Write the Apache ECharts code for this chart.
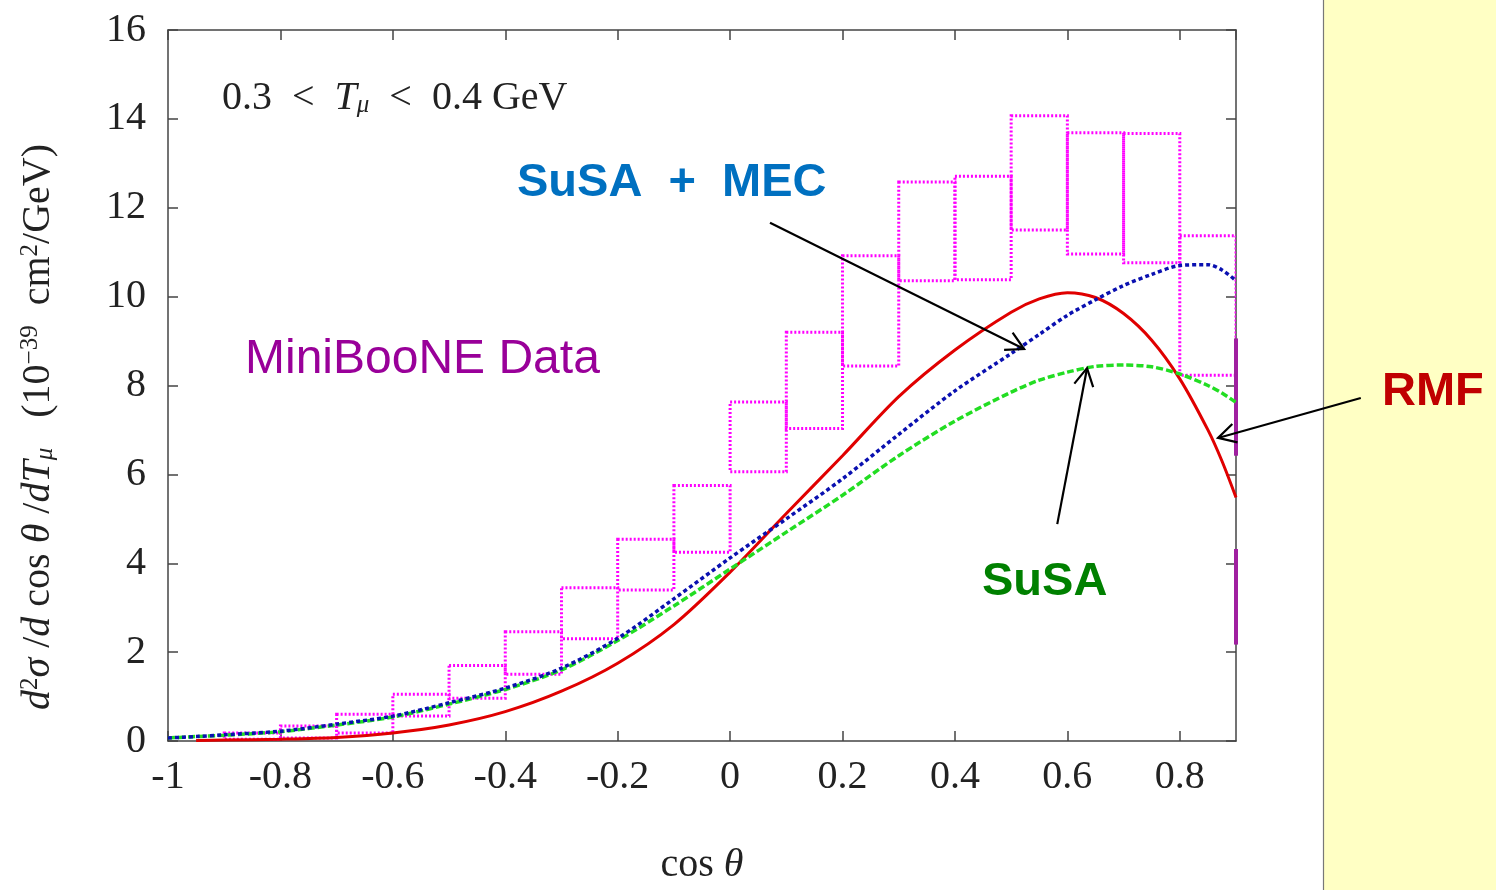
<!DOCTYPE html>
<html>
<head>
<meta charset="utf-8">
<script src="https://cdn.jsdelivr.net/npm/echarts@6/dist/echarts.min.js"></script>
<style>
  html, body { margin: 0; padding: 0; background: #fff; }
  #chart { width: 1496px; height: 890px; }
</style>
</head>
<body>
<div id="chart"></div>
<script>
// MiniBooNE data boxes: bin left edge, lower and upper band value
const binLeft = [-0.9, -0.8, -0.7, -0.6, -0.5, -0.4, -0.3, -0.2, -0.1, 0, 0.1, 0.2, 0.3, 0.4, 0.5, 0.6, 0.7, 0.8];
const binWidth = 0.1;
const dataLow  = [0.04, 0.07, 0.18, 0.56, 0.96, 1.5, 2.3, 3.4, 4.25, 6.06, 7.03, 8.44, 10.36, 10.38, 11.5, 10.96, 10.76, 8.23];
const dataHigh = [0.18, 0.34, 0.6, 1.05, 1.7, 2.46, 3.45, 4.54, 5.75, 7.63, 9.2, 10.92, 12.58, 12.71, 14.07, 13.69, 13.67, 11.37];

// partial box edge at cos = 0.9 (next bin, clipped)
const edgeX = 0.9;
const edgeLow  = [2.17, 6.42];
const edgeHigh = [4.32, 9.06];

// model curves
const cosGrid = [-1, -0.95, -0.9, -0.8, -0.7, -0.6, -0.5, -0.4, -0.3, -0.2, -0.1, 0, 0.1, 0.2, 0.3, 0.4, 0.5, 0.55, 0.6, 0.65, 0.7, 0.75, 0.8, 0.85, 0.875, 0.9];
const rmf     = [null, 0.01, 0.02, 0.04, 0.08, 0.18, 0.36, 0.66, 1.12, 1.75, 2.62, 3.8, 5.12, 6.42, 7.75, 8.8, 9.65, 9.95, 10.09, 9.98, 9.62, 9.02, 8.15, 7.0, 6.3, 5.48];
const susaMec = [0.07, 0.1, 0.14, 0.22, 0.38, 0.56, 0.86, 1.19, 1.64, 2.31, 3.2, 4.12, 5.0, 5.9, 6.9, 7.88, 8.72, 9.15, 9.58, 9.93, 10.25, 10.5, 10.7, 10.72, 10.6, 10.36];
const susa    = [0.07, 0.1, 0.13, 0.21, 0.36, 0.54, 0.83, 1.16, 1.6, 2.26, 3.04, 3.87, 4.7, 5.53, 6.42, 7.2, 7.85, 8.12, 8.3, 8.43, 8.46, 8.42, 8.26, 8.0, 7.83, 7.62];

const xTicks = { min: -1, max: 0.9, interval: 0.2 };
const yTicks = { min: 0, max: 16, interval: 2 };

const serif = "'Liberation Serif', 'DejaVu Serif', serif";
const sans = "'Liberation Sans', Arial, sans-serif";
const frame = "#444";
const ink = "#222";

let chart = echarts.init(document.getElementById("chart"));

function pairs(xs, ys) {
  return xs.map((x, i) => [x, ys[i]]);
}

let boxRows = binLeft.map((x, i) => [x, x + binWidth, dataLow[i], dataHigh[i]]);
let edgeRows = edgeLow.map((lo, i) => [edgeX, lo, edgeHigh[i]]);

let axisCommon = {
  type: "value",
  splitLine: { show: false },
  axisLine: { show: true, onZero: false, lineStyle: { color: frame, width: 1.5 } },
  axisTick: { show: true, inside: true, length: 10, lineStyle: { color: frame, width: 1.5 } }
};

let option = {
  animation: false,
  backgroundColor: "#fff",
  grid: { left: 168, top: 30, right: 260, bottom: 145, containLabel: false },
  xAxis: [
    Object.assign({}, axisCommon, {
      position: "bottom",
      min: xTicks.min, max: xTicks.max, interval: xTicks.interval,
      axisLabel: {
        showMaxLabel: false,
        margin: 16,
        fontFamily: serif, fontSize: 40, color: ink,
        formatter: v => String(Math.round(v * 10) / 10)
      },
      name: "cos {i|θ}",
      nameLocation: "middle",
      nameGap: 104,
      nameTextStyle: {
        fontFamily: serif, fontSize: 40, color: ink,
        rich: { i: { fontFamily: serif, fontSize: 40, fontStyle: "italic", color: ink } }
      }
    }),
    Object.assign({}, axisCommon, {
      position: "top",
      min: xTicks.min, max: xTicks.max, interval: xTicks.interval,
      axisLabel: { show: false }
    })
  ],
  yAxis: [
    Object.assign({}, axisCommon, {
      position: "left",
      min: yTicks.min, max: yTicks.max, interval: yTicks.interval,
      axisLabel: { margin: 22, fontFamily: serif, fontSize: 40, color: ink }
    }),
    Object.assign({}, axisCommon, {
      position: "right",
      min: yTicks.min, max: yTicks.max, interval: yTicks.interval,
      axisLabel: { show: false }
    })
  ],
  series: [
    {
      name: "MiniBooNE",
      type: "custom",
      clip: true,
      encode: { x: [0, 1], y: [2, 3] },
      data: boxRows,
      renderItem: function (params, api) {
        let p0 = api.coord([api.value(0), api.value(2)]);
        let p1 = api.coord([api.value(1), api.value(3)]);
        return {
          type: "rect",
          shape: { x: p0[0], y: p1[1], width: p1[0] - p0[0], height: p0[1] - p1[1] },
          style: { fill: null, stroke: "#ff00ff", lineWidth: 3, lineDash: [2, 2] }
        };
      },
      z: 2
    },
    {
      name: "edge",
      type: "custom",
      clip: false,
      encode: { x: 0, y: [1, 2] },
      data: edgeRows,
      renderItem: function (params, api) {
        let a = api.coord([api.value(0), api.value(1)]);
        let b = api.coord([api.value(0), api.value(2)]);
        return {
          type: "line",
          shape: { x1: a[0], y1: a[1], x2: b[0], y2: b[1] },
          style: { stroke: "#a020a0", lineWidth: 4 }
        };
      },
      z: 3
    },
    {
      name: "RMF",
      type: "line",
      data: pairs(cosGrid, rmf),
      smooth: 0.3,
      symbol: "none",
      lineStyle: { color: "#e00000", width: 3 },
      z: 4
    },
    {
      name: "SuSA",
      type: "line",
      data: pairs(cosGrid, susa),
      smooth: 0.3,
      symbol: "none",
      lineStyle: { color: "#22dd22", width: 3.5, type: [7, 3] },
      z: 5
    },
    {
      name: "SuSA + MEC",
      type: "line",
      data: pairs(cosGrid, susaMec),
      smooth: 0.3,
      symbol: "none",
      lineStyle: { color: "#0a10b0", width: 3.5, type: [4, 3] },
      z: 6
    }
  ]
};

chart.setOption(option);

// annotation arrows, tail and tip in data coordinates
const arrows = [
  { from: [0.071, 11.66], to: [0.523, 8.82] },
  { from: [0.582, 4.88], to: [0.635, 8.39] },
  { from: [1.122, 7.72], to: [0.868, 6.82] }
];

function arrowGraphic(a) {
  let p = chart.convertToPixel({ xAxisIndex: 0, yAxisIndex: 0 }, a.from);
  let q = chart.convertToPixel({ xAxisIndex: 0, yAxisIndex: 0 }, a.to);
  let ang = Math.atan2(q[1] - p[1], q[0] - p[0]);
  let len = 20, spread = 0.5;
  let h1 = [q[0] - len * Math.cos(ang - spread), q[1] - len * Math.sin(ang - spread)];
  let h2 = [q[0] - len * Math.cos(ang + spread), q[1] - len * Math.sin(ang + spread)];
  return [
    { type: "line", shape: { x1: p[0], y1: p[1], x2: q[0], y2: q[1] }, style: { stroke: "#000", lineWidth: 2.2 }, z: 20 },
    { type: "polyline", shape: { points: [h1, q, h2] }, style: { stroke: "#000", lineWidth: 2.2, fill: null }, z: 20 }
  ];
}

let yName = "{i|d}{sup|2}{i|σ} /{i|d} cos {i|θ} /{i|dT}{sub|μ}   (10{sup|−39}  cm{sup|2}/GeV)";

let graphics = [
  { type: "rect", shape: { x: 1323, y: 0, width: 173, height: 890 }, style: { fill: "#ffffc4" }, z: 0 },
  { type: "line", shape: { x1: 1323.5, y1: 0, x2: 1323.5, y2: 890 }, style: { stroke: "#777", lineWidth: 1.2 }, z: 1 },
  {
    type: "text", x: 38, y: 427, rotation: Math.PI / 2, z: 10,
    style: {
      text: yName,
      font: "40px " + serif, fill: ink, align: "center", verticalAlign: "middle",
      rich: {
        i: { fontFamily: serif, fontSize: 40, fontStyle: "italic", fill: ink },
        sup: { fontFamily: serif, fontSize: 25, fill: ink, verticalAlign: "top" },
        sub: { fontFamily: serif, fontSize: 25, fontStyle: "italic", fill: ink, verticalAlign: "bottom" }
      }
    }
  },
  {
    type: "text", x: 222, y: 98, z: 10,
    style: {
      text: "0.3  <  {i|T}{sub|μ}  <  0.4 GeV",
      font: "40px " + serif, fill: ink, align: "left", verticalAlign: "middle",
      rich: {
        i: { fontFamily: serif, fontSize: 40, fontStyle: "italic", fill: ink },
        sub: { fontFamily: serif, fontSize: 25, fontStyle: "italic", fill: ink, verticalAlign: "bottom" }
      }
    }
  },
  { type: "text", x: 517, y: 183, z: 10, style: { text: "SuSA  +  MEC", font: "bold 47px " + sans, fill: "#0070c0", align: "left", verticalAlign: "middle" } },
  { type: "text", x: 245, y: 360, z: 10, style: { text: "MiniBooNE Data", font: "48px " + sans, fill: "#990099", align: "left", verticalAlign: "middle" } },
  { type: "text", x: 982, y: 582, z: 10, style: { text: "SuSA", font: "bold 47px " + sans, fill: "#008000", align: "left", verticalAlign: "middle" } },
  { type: "text", x: 1382, y: 392, z: 10, style: { text: "RMF", font: "bold 47px " + sans, fill: "#c00000", align: "left", verticalAlign: "middle" } }
];
arrows.forEach(a => { graphics = graphics.concat(arrowGraphic(a)); });

chart.setOption({ graphic: graphics });
</script>
</body>
</html>
